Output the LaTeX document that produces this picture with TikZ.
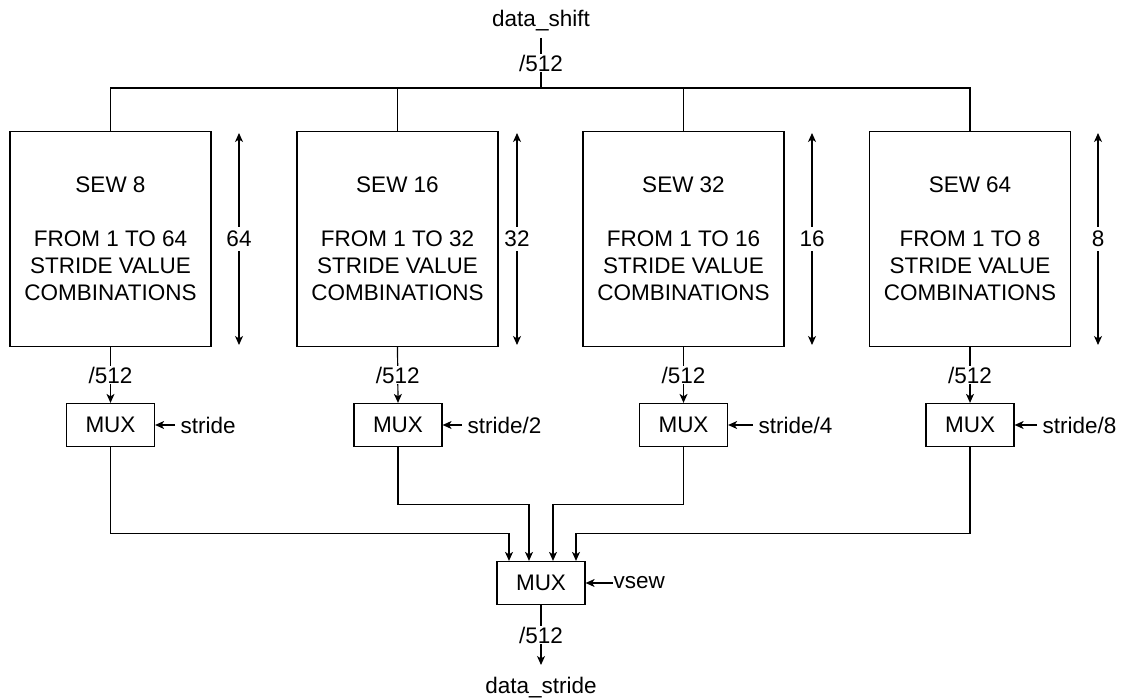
\documentclass[tikz,border=0pt]{standalone}
\usepackage{fontspec}
\setmainfont{Liberation Sans}
\usetikzlibrary{arrows.meta}
\begin{document}
\begin{tikzpicture}[x=1pt,y=-1pt,
  line width=1.2pt,
  every node/.style={font=\fontsize{22.5}{27}\selectfont},
  arr/.style={-{Stealth[length=9pt,width=8pt,inset=2.5pt]}},
  darr/.style={{Stealth[length=9pt,width=8pt,inset=2.5pt]}-{Stealth[length=9pt,width=8pt,inset=2.5pt]}},
  sewbox/.style={draw,minimum width=201pt,minimum height=215pt,align=center,inner sep=0pt},
  muxbox/.style={draw,minimum width=88pt,minimum height=43pt,inner sep=0pt},
  bus/.style={fill=white,inner sep=1pt},
  sel/.style={anchor=west,inner sep=0pt}
]
\useasboundingbox (0,0) rectangle (1123,700);

% per-SEW stride blocks
\node[sewbox] (b1) at (110.5,239) {SEW 8\\ \\FROM 1 TO 64\\STRIDE VALUE\\COMBINATIONS};
\node[sewbox] (b2) at (397.5,239) {SEW 16\\ \\FROM 1 TO 32\\STRIDE VALUE\\COMBINATIONS};
\node[sewbox] (b3) at (683.5,239) {SEW 32\\ \\FROM 1 TO 16\\STRIDE VALUE\\COMBINATIONS};
\node[sewbox] (b4) at (970,239) {SEW 64\\ \\FROM 1 TO 8\\STRIDE VALUE\\COMBINATIONS};

% input and distribution bus
\node[inner sep=0pt] (ds) at (541,21) {data\_shift};
\coordinate (top) at (541,88);
\draw ([yshift=-6pt]ds.south) -- node[bus] {/512} (top);
\draw (b1.north) |- (b4.north |- top) -- (b4.north);
\foreach \b in {b2,b3} \draw (\b.north) -- (\b.north |- top);

% combination counts
\coordinate (d1t) at (239,133);  \coordinate (d1b) at (239,345);
\coordinate (d2t) at (517,133);  \coordinate (d2b) at (517,345);
\coordinate (d3t) at (812,133);  \coordinate (d3b) at (812,345);
\coordinate (d4t) at (1098,133); \coordinate (d4b) at (1098,345);
\draw[darr] (d1t) -- node[bus,inner sep=4pt] {64} (d1b);
\draw[darr] (d2t) -- node[bus,inner sep=4pt] {32} (d2b);
\draw[darr] (d3t) -- node[bus,inner sep=4pt] {16} (d3b);
\draw[darr] (d4t) -- node[bus,inner sep=4pt] {8} (d4b);

% first-level multiplexers
\node[muxbox] (m1) at (110.5,425) {MUX};
\node[muxbox] (m2) at (398,425) {MUX};
\node[muxbox] (m3) at (683.5,425) {MUX};
\node[muxbox] (m4) at (970,425) {MUX};
\foreach \i in {1,2,3,4} \draw[arr] (b\i.south) -- node[bus] {/512} (m\i.north);

\node[sel] (s1) at (180,425) {stride};
\node[sel] (s2) at (467,425) {stride/2};
\node[sel] (s3) at (758,425) {stride/4};
\node[sel] (s4) at (1042,425) {stride/8};
\foreach \i in {1,2,3,4} \draw[arr] ([xshift=-5pt]s\i.west) -- (m\i.east);

% final multiplexer
\node[muxbox] (m0) at (541,583) {MUX};
\draw[arr] (m1.south) -- ++(0,86) -| ([xshift=-32pt]m0.north);
\draw[arr] (m2.south) -- ++(0,57) -| ([xshift=-12pt]m0.north);
\draw[arr] (m3.south) -- ++(0,57) -| ([xshift=12pt]m0.north);
\draw[arr] (m4.south) -- ++(0,86) -| ([xshift=35pt]m0.north);

\node[sel] (vs) at (613,583) {vsew};
\draw[arr] (vs.west) -- (m0.east);

% output
\node[anchor=north,inner sep=0pt] (dst) at (541,677) {data\_stride};
\draw[arr] (m0.south) -- node[bus] {/512} ([yshift=12pt]dst.north);
\end{tikzpicture}
\end{document}
